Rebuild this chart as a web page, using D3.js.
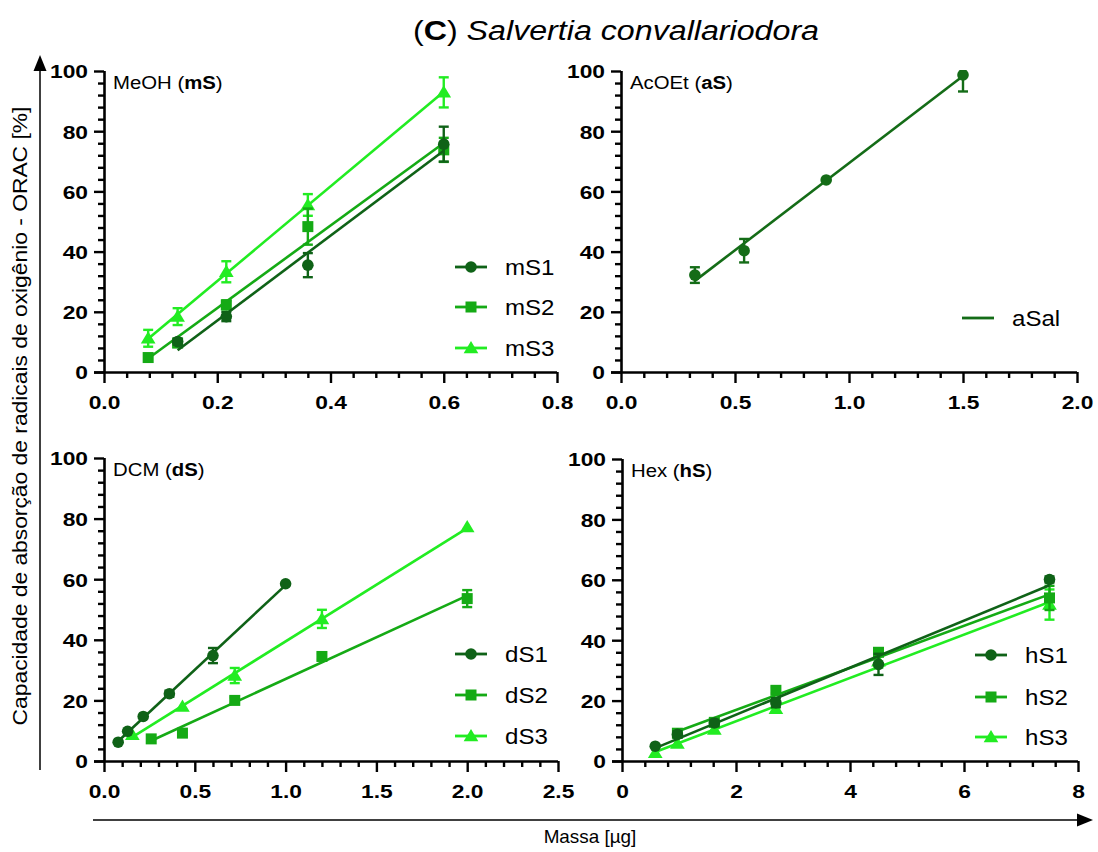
<!DOCTYPE html>
<html><head><meta charset="utf-8">
<script src="https://cdn.jsdelivr.net/npm/d3@7"></script>
<style>body{margin:0;background:#fff}svg{display:block}</style>
</head><body>
<svg id="c" width="1098" height="852"></svg>
<script>
// ---------- DATA ----------
const yTicks = [0, 20, 40, 60, 80, 100];
const meohXTicks = [0.0, 0.2, 0.4, 0.6, 0.8];
const acoetXTicks = [0.0, 0.5, 1.0, 1.5, 2.0];
const dcmXTicks = [0.0, 0.5, 1.0, 1.5, 2.0, 2.5];
const hexXTicks = [0, 2, 4, 6, 8];

const mS1_x = [0.13, 0.216, 0.36, 0.6];
const mS1_y = [10.1, 18.4, 35.5, 75.7];
const mS1_sd = [1.0, 1.5, 4.0, 5.8];
const mS2_x = [0.078, 0.13, 0.216, 0.36, 0.6];
const mS2_y = [4.8, 9.6, 22.3, 48.3, 73.8];
const mS2_sd = [0.8, 1.0, 1.5, 6.0, 4.0];
const mS3_x = [0.078, 0.13, 0.216, 0.36, 0.6];
const mS3_y = [11.2, 18.4, 33.3, 55.5, 92.9];
const mS3_sd = [2.8, 2.8, 3.5, 3.6, 5.0];

const aSal_x = [0.324, 0.54, 0.9, 1.5];
const aSal_y = [32.2, 40.3, 63.8, 98.7];
const aSal_sd = [2.6, 3.9, 0.5, 5.5];

const dS1_x = [0.078, 0.13, 0.216, 0.36, 0.6, 1.0];
const dS1_y = [6.2, 9.8, 14.7, 22.2, 34.8, 58.5];
const dS1_sd = [0.5, 0.8, 0.8, 1.0, 2.5, 0.8];
const dS2_x = [0.26, 0.432, 0.72, 1.2, 2.0];
const dS2_y = [7.3, 9.2, 20.0, 34.5, 53.6];
const dS2_sd = [0.5, 0.8, 1.0, 1.0, 2.8];
const dS3_x = [0.156, 0.432, 0.72, 1.2, 2.0];
const dS3_y = [8.7, 18.0, 28.2, 46.9, 77.2];
const dS3_sd = [0.5, 0.8, 2.5, 3.0, 0.5];

const hS1_x = [0.583, 0.972, 1.62, 2.7, 4.5, 7.5];
const hS1_y = [4.9, 8.8, 12.6, 19.3, 32.0, 60.1];
const hS1_sd = [0.5, 1.0, 1.0, 1.5, 3.5, 1.0];
const hS2_x = [0.972, 1.62, 2.7, 4.5, 7.5];
const hS2_y = [9.2, 12.8, 23.4, 36.0, 54.0];
const hS2_sd = [0.8, 0.8, 1.0, 1.0, 4.0];
const hS3_x = [0.583, 0.972, 1.62, 2.7, 4.5, 7.5];
const hS3_y = [2.7, 5.8, 10.4, 17.3, 33.0, 51.8];
const hS3_sd = [0.5, 0.8, 0.8, 1.2, 2.0, 5.0];

// ---------- STYLE ----------
const C_DARK = "#0f6217", C_MID = "#15aa15", C_BRIGHT = "#22ec22";
const FONT = "'Liberation Sans', Arial, sans-serif";
const SX = 1.2; // horizontal text stretch seen in the reference

const svg = d3.select("#c");

function stext(parent, x, y, sx, size, anchor){
  return parent.append("text").attr("transform",`translate(${x},${y}) scale(${sx},1)`)
    .attr("text-anchor",anchor||"start")
    .style("font-family",FONT).style("font-size",size+"px").attr("fill","#000");
}

const panels = [
  {box:[104,557,71,372], xmax:0.8, xticks:meohXTicks, minorN:5, fmt:d3.format(".1f"),
   label:["MeOH (","mS",")"], legend:{x:455,ys:[267,307,348],tx:505},
   series:[
     {name:"mS1", x:mS1_x, y:mS1_y, sd:mS1_sd, color:C_DARK, shape:"circle"},
     {name:"mS2", x:mS2_x, y:mS2_y, sd:mS2_sd, color:C_MID, shape:"square"},
     {name:"mS3", x:mS3_x, y:mS3_y, sd:mS3_sd, color:C_BRIGHT, shape:"triangle"}]},
  {box:[621,1077,71,372], xmax:2.0, xticks:acoetXTicks, minorN:5, fmt:d3.format(".1f"),
   label:["AcOEt (","aS",")"], legend:{x:962,ys:[318],tx:1012},
   series:[
     {name:"aSal", x:aSal_x, y:aSal_y, sd:aSal_sd, color:"#146c17", shape:"circle", legendNoMarker:true}]},
  {box:[104,558,458,761], xmax:2.5, xticks:dcmXTicks, minorN:5, fmt:d3.format(".1f"),
   label:["DCM (","dS",")"], legend:{x:455,ys:[654,695,736],tx:505},
   series:[
     {name:"dS1", x:dS1_x, y:dS1_y, sd:dS1_sd, color:C_DARK, shape:"circle"},
     {name:"dS2", x:dS2_x, y:dS2_y, sd:dS2_sd, color:C_MID, shape:"square"},
     {name:"dS3", x:dS3_x, y:dS3_y, sd:dS3_sd, color:C_BRIGHT, shape:"triangle"}]},
  {box:[622,1078,459,761], xmax:8, xticks:hexXTicks, minorN:5, fmt:d3.format("d"),
   label:["Hex (","hS",")"], legend:{x:975,ys:[655,697,737],tx:1025},
   series:[
     {name:"hS1", x:hS1_x, y:hS1_y, sd:hS1_sd, color:C_DARK, shape:"circle"},
     {name:"hS2", x:hS2_x, y:hS2_y, sd:hS2_sd, color:C_MID, shape:"square"},
     {name:"hS3", x:hS3_x, y:hS3_y, sd:hS3_sd, color:C_BRIGHT, shape:"triangle"}]}
];

function regress(xs, ys){
  const n = xs.length, mx = d3.mean(xs), my = d3.mean(ys);
  let sxy=0, sxx=0;
  for(let i=0;i<n;i++){ sxy += (xs[i]-mx)*(ys[i]-my); sxx += (xs[i]-mx)**2; }
  const b = sxy/sxx; return {b, a: my - b*mx};
}

function marker(g, shape, cx, cy, color){
  if(shape==="circle"){
    g.append("circle").attr("cx",cx).attr("cy",cy).attr("r",5.8).attr("fill",color);
  } else if(shape==="square"){
    g.append("rect").attr("x",cx-5.5).attr("y",cy-5.5).attr("width",11).attr("height",11).attr("fill",color);
  } else {
    const s=7;
    g.append("path").attr("d",`M${cx},${cy-s}L${cx+s*1.05},${cy+s*0.75}L${cx-s*1.05},${cy+s*0.75}Z`).attr("fill",color);
  }
}

panels.forEach((p,pi)=>{
  const [l,r,t,b] = p.box;
  const x = d3.scaleLinear().domain([0,p.xmax]).range([l,r]);
  const y = d3.scaleLinear().domain([0,100]).range([b,t]);
  const g = svg.append("g");
  const clipId = "clip"+pi;
  svg.append("clipPath").attr("id",clipId).append("rect").attr("x",l-20).attr("y",t-1).attr("width",r-l+40).attr("height",b-t+2);

  const step = p.xticks[1]-p.xticks[0];
  const xMinor = d3.range(0, p.xmax+1e-9, step/p.minorN).filter(v=>!p.xticks.some(tk=>Math.abs(tk-v)<1e-9));
  const yMinor = d3.range(0, 100.001, 4).filter(v=>v%20!==0);
  const ax = g.append("g").attr("transform",`translate(0,${b})`)
    .call(d3.axisBottom(x).tickValues(p.xticks).tickFormat(p.fmt).tickSize(11));
  g.append("g").attr("transform",`translate(0,${b})`)
    .call(d3.axisBottom(x).tickValues(xMinor).tickFormat("").tickSize(6))
    .call(s=>s.select(".domain").remove());
  const ay = g.append("g").attr("transform",`translate(${l},0)`)
    .call(d3.axisLeft(y).tickValues(yTicks).tickSize(10));
  g.append("g").attr("transform",`translate(${l},0)`)
    .call(d3.axisLeft(y).tickValues(yMinor).tickFormat("").tickSize(6))
    .call(s=>s.select(".domain").remove());
  g.selectAll(".domain").attr("stroke","#000").attr("stroke-width",2.6);
  g.selectAll(".tick line").attr("stroke","#000").attr("stroke-width",2.4);
  g.selectAll(".tick text").attr("fill","#000").style("font-family",FONT).style("font-size","19px").style("font-weight","bold");
  ax.select(".domain").attr("d",`M${l-10},0.5H${r}`);
  ay.select(".domain").attr("d",`M0.5,${b}V${t}`);
  ax.selectAll(".tick text").attr("y",null).attr("dy",null).attr("transform",`translate(0,37) scale(${SX},1)`);
  ay.selectAll(".tick text").attr("x",null).attr("dy","0.36em").attr("transform",`translate(-16,0) scale(${SX},1)`);

  const lt = stext(g, l+9, t+18, 1.1, 18.5, "start");
  lt.append("tspan").text(p.label[0]);
  lt.append("tspan").text(p.label[1]).style("font-weight","bold");
  lt.append("tspan").text(p.label[2]);

  const dg = g.append("g").attr("clip-path",`url(#${clipId})`);
  p.series.slice().reverse().forEach(s=>{
    const fit = regress(s.x, s.y);
    const x0 = d3.min(s.x), x1 = d3.max(s.x);
    dg.append("line").attr("x1",x(x0)).attr("y1",y(fit.a+fit.b*x0))
      .attr("x2",x(x1)).attr("y2",y(fit.a+fit.b*x1))
      .attr("stroke",s.color).attr("stroke-width",2.6);
    s.x.forEach((xv,i)=>{
      const sd = s.sd[i], cx = x(xv);
      if(sd>0.9){
        const yt = y(Math.min(s.y[i]+sd,100.6)), yb = y(s.y[i]-sd);
        dg.append("line").attr("x1",cx).attr("x2",cx).attr("y1",yt).attr("y2",yb).attr("stroke",s.color).attr("stroke-width",2.4);
        if(s.y[i]+sd<=100.6) dg.append("line").attr("x1",cx-5).attr("x2",cx+5).attr("y1",yt).attr("y2",yt).attr("stroke",s.color).attr("stroke-width",2.4);
        dg.append("line").attr("x1",cx-5).attr("x2",cx+5).attr("y1",yb).attr("y2",yb).attr("stroke",s.color).attr("stroke-width",2.4);
      }
      marker(dg, s.shape, cx, y(s.y[i]), s.color);
    });
  });

  p.series.forEach((s,i)=>{
    const ly = p.legend.ys[i];
    g.append("line").attr("x1",p.legend.x).attr("x2",p.legend.x+32).attr("y1",ly).attr("y2",ly)
      .attr("stroke",s.color).attr("stroke-width",2.8);
    if(!s.legendNoMarker) marker(g, s.shape, p.legend.x+16, ly, s.color);
    stext(g, p.legend.tx, ly+8, 1.12, 21.5, "start").text(s.name);
  });
});

const tt = stext(svg, 616, 40, 1.15, 28, "middle");
tt.append("tspan").text("(");
tt.append("tspan").text("C").style("font-weight","bold");
tt.append("tspan").text(") ");
tt.append("tspan").text("Salvertia convallariodora").style("font-style","italic");

svg.append("line").attr("x1",40).attr("x2",40).attr("y1",770).attr("y2",68).attr("stroke","#000").attr("stroke-width",1.5);
svg.append("path").attr("d","M40,55L46.5,71L33.5,71Z").attr("fill","#000");
svg.append("line").attr("x1",93).attr("x2",1080).attr("y1",820).attr("y2",820).attr("stroke","#000").attr("stroke-width",1.5);
svg.append("path").attr("d","M1093,820L1077,813.5L1077,826.5Z").attr("fill","#000");

svg.append("text").attr("transform","translate(27,416) rotate(-90) scale(1.17,1)").attr("text-anchor","middle")
  .style("font-family",FONT).style("font-size","19.5px").attr("fill","#000")
  .text("Capacidade de absorção de radicais de oxigênio - ORAC [%]");
stext(svg, 590, 843, 1.05, 18, "middle").text("Massa [µg]");
</script>
</body></html>
